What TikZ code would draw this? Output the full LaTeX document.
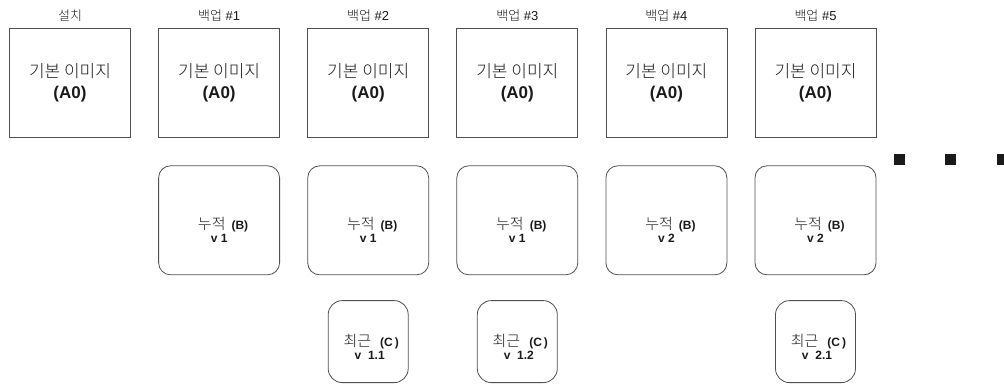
\documentclass[tikz,border=0pt]{standalone}
\usepackage{fontspec}
\setmainfont{Liberation Sans}
\IfFontExistsTF{Noto Sans CJK KR Light}
  {\newfontfamily\krfont{Noto Sans CJK KR Light}}
  {\newfontfamily\krfont{Noto Sans CJK KR}}
\usetikzlibrary{positioning}
\definecolor{edge}{HTML}{505050}
\definecolor{ink}{HTML}{1A1A1A}
\newcommand{\ko}[2]{{\krfont\mdseries\fontsize{#1}{#1}\selectfont #2}}

\begin{document}
\begin{tikzpicture}[
    x=1pt, y=-1pt,
    node distance=27.3pt,
    ibox/.style={rectangle, draw=edge, line width=0.8pt,
                 minimum width=121pt, minimum height=109pt,
                 font=\fontsize{17}{21}\selectfont, text=ink, align=center, inner sep=2pt},
    bbox/.style={ibox, rounded corners=12pt,
                 font=\fontsize{12}{13}\selectfont\bfseries},
    cbox/.style={bbox, rounded corners=14pt,
                 minimum width=80pt, minimum height=82pt},
    tlabel/.style={font=\fontsize{13}{15}\selectfont, text=ink, inner sep=1pt},
    dot/.style={rectangle, fill=ink, minimum size=11pt, inner sep=0pt},
  ]
    \useasboundingbox (0,0) rectangle (1004,383);

    % base images
    \node[ibox] at (70,82.5) (a0) {\ko{17}{기본 이미지}\\\textbf{(A0)}};
    \node[ibox, right=of a0] (a1) {\ko{17}{기본 이미지}\\\textbf{(A0)}};
    \node[ibox, right=of a1] (a2) {\ko{17}{기본 이미지}\\\textbf{(A0)}};
    \node[ibox, right=of a2] (a3) {\ko{17}{기본 이미지}\\\textbf{(A0)}};
    \node[ibox, right=of a3] (a4) {\ko{17}{기본 이미지}\\\textbf{(A0)}};
    \node[ibox, right=of a4] (a5) {\ko{17}{기본 이미지}\\\textbf{(A0)}};

    % column titles
    \node[tlabel, above=5pt of a0] (t0) {\ko{13}{설치}};
    \node[tlabel, above=5pt of a1] (t1) {\ko{13}{백업} \#1};
    \node[tlabel, above=5pt of a2] (t2) {\ko{13}{백업} \#2};
    \node[tlabel, above=5pt of a3] (t3) {\ko{13}{백업} \#3};
    \node[tlabel, above=5pt of a4] (t4) {\ko{13}{백업} \#4};
    \node[tlabel, above=5pt of a5] (t5) {\ko{13}{백업} \#5};

    % cumulative
    \node[bbox, below=28pt of a1] (b1) {\rule{0pt}{31pt}\hspace{8pt}\ko{15}{누적}\hspace{6pt}(B)\\v 1};
    \node[bbox, below=28pt of a2] (b2) {\rule{0pt}{31pt}\hspace{8pt}\ko{15}{누적}\hspace{6pt}(B)\\v 1};
    \node[bbox, below=28pt of a3] (b3) {\rule{0pt}{31pt}\hspace{8pt}\ko{15}{누적}\hspace{6pt}(B)\\v 1};
    \node[bbox, below=28pt of a4] (b4) {\rule{0pt}{31pt}\hspace{8pt}\ko{15}{누적}\hspace{6pt}(B)\\v 2};
    \node[bbox, below=28pt of a5] (b5) {\rule{0pt}{31pt}\hspace{8pt}\ko{15}{누적}\hspace{6pt}(B)\\v 2};

    % latest
    \node[cbox, below=25pt of b2] (c2) {\rule{0pt}{22pt}\hspace{6pt}\ko{15}{최근}\hspace{9pt}(C\,)\\\hspace{3pt}v~~1.1};
    \node[cbox, below=25pt of b3] (c3) {\rule{0pt}{22pt}\hspace{6pt}\ko{15}{최근}\hspace{9pt}(C\,)\\\hspace{3pt}v~~1.2};
    \node[cbox, below=25pt of b5] (c5) {\rule{0pt}{22pt}\hspace{6pt}\ko{15}{최근}\hspace{9pt}(C\,)\\\hspace{3pt}v~~2.1};

    % more backups
    \node[dot] at (899.5,159.5) (d1) {};
    \node[dot, right=40pt of d1] (d2) {};
    \node[dot, right=40pt of d2] (d3) {};
\end{tikzpicture}
\end{document}
